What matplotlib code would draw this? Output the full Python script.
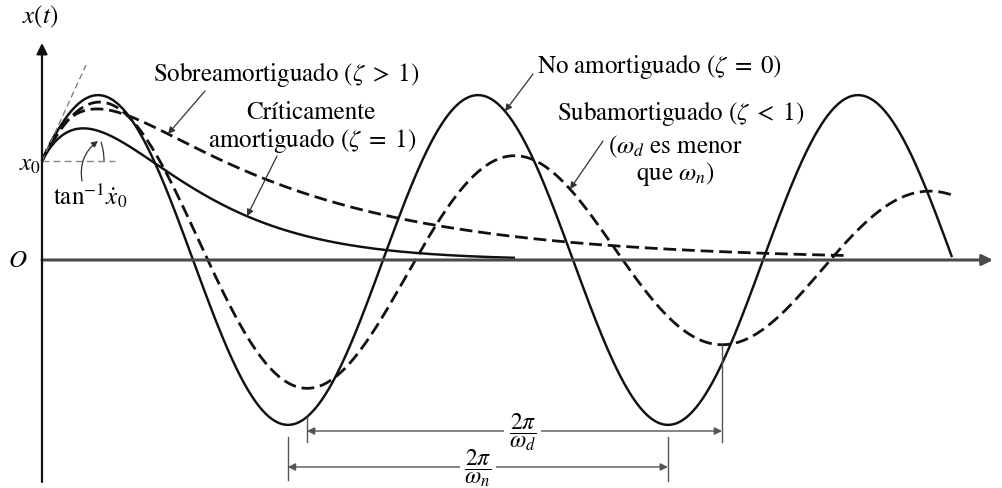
import numpy as np
import matplotlib
matplotlib.use("Agg")
import matplotlib.pyplot as plt
from matplotlib.patches import Arc

plt.rcParams["font.family"] = ["STIXGeneral", "Liberation Serif", "DejaVu Serif"]
plt.rcParams["mathtext.fontset"] = "stix"

# Free response x(t) of a single-DOF system, common initial displacement.
x0 = 99.0                      # initial displacement
# undamped (zeta = 0)
period_n = 380.0
v0_undamped = 2.18
t_end_undamped = 910.0
# underdamped (zeta < 1)
period_d = 415.0
decay_under = 0.001
v0_under = 1.95
t_end_under = 911.0
# critically damped (zeta = 1)
rate_crit = 0.014
v0_crit = 1.9
t_end_crit = 473.0
# overdamped (zeta > 1): two real decay rates
rates_over = [0.005, 0.025]
v0_over = 2.5
t_end_over = 805.0

wn = 2 * np.pi / period_n
wd = 2 * np.pi / period_d


def undamped(t):
    return x0 * np.cos(wn * t) + v0_undamped / wn * np.sin(wn * t)


def underdamped(t):
    b = (v0_under + decay_under * x0) / wd
    return np.exp(-decay_under * t) * (x0 * np.cos(wd * t) + b * np.sin(wd * t))


def critical(t):
    return (x0 + (v0_crit + rate_crit * x0) * t) * np.exp(-rate_crit * t)


def overdamped(t):
    a, b = rates_over
    c1 = (v0_over + b * x0) / (b - a)
    c2 = x0 - c1
    return c1 * np.exp(-a * t) + c2 * np.exp(-b * t)


fig = plt.figure(figsize=(10.03, 4.89), dpi=100)
ax = fig.add_axes([0, 0, 1, 1])
ax.set_xlim(-42, 961)
ax.set_ylim(-228, 261)
ax.axis("off")

ink = "#111111"
lw = 1.75
lw_dash = 2.0
dash = (4.6, 2.1)

t_u = np.linspace(0, t_end_undamped, 1500)
t_d = np.linspace(0, t_end_under, 1500)
t_c = np.linspace(0, t_end_crit, 800)
t_o = np.linspace(0, t_end_over, 1200)
x_u = undamped(t_u)
x_d = underdamped(t_d)
x_c = critical(t_c)
x_o = overdamped(t_o)

# axes with arrow heads
ax.annotate("", xy=(951, 0), xytext=(0, 0),
            arrowprops=dict(arrowstyle="-|>", color="#4a4a4a", lw=2.2,
                            mutation_scale=16, shrinkA=0, shrinkB=0))
ax.annotate("", xy=(0, 217), xytext=(0, -222),
            arrowprops=dict(arrowstyle="-|>", color=ink, lw=1.6,
                            mutation_scale=16, shrinkA=0, shrinkB=0))

ax.plot(t_u, x_u, color=ink, lw=lw, solid_capstyle="butt")
ax.plot(t_c, x_c, color=ink, lw=lw, solid_capstyle="butt")
ax.plot(t_d, x_d, color=ink, lw=lw_dash, linestyle=(0, dash), dash_capstyle="butt")
ax.plot(t_o, x_o, color=ink, lw=lw_dash, linestyle=(0, dash), dash_capstyle="butt")

# initial slope and reference line at x0
t_tan = np.array([0.0, 44.0])
ax.plot(t_tan, x0 + v0_undamped * t_tan, color="#777777", lw=0.9,
        linestyle=(0, (5, 3)))
ax.plot([0, 73], [x0, x0], color="#888888", lw=1.0, linestyle=(0, (5, 3)))
ax.add_patch(Arc((0, x0), 124, 124, theta1=0, theta2=18, color="#333333", lw=0.9))
ax.annotate("", xy=(56, 119), xytext=(40, 79),
            arrowprops=dict(arrowstyle="-|>", color="#333333", lw=0.9,
                            mutation_scale=9, shrinkA=0, shrinkB=0,
                            connectionstyle="arc3,rad=-0.3"))

fs = 18
ax.text(-2, 244, r"$x(t)$", fontsize=fs, ha="center", va="center")
ax.text(-12, 96, r"$x_0$", fontsize=fs, ha="center", va="center")
ax.text(-24, 0, r"$O$", fontsize=fs, ha="center", va="center")
ax.text(48, 65, r"$\mathrm{tan}^{-1}\dot{x}_0$", fontsize=fs, ha="center", va="center")

ax.text(244, 186, r"Sobreamortiguado ($\zeta\;>\;1$)", fontsize=fs, ha="center", va="center")
ax.text(269, 148, "Críticamente", fontsize=fs, ha="center", va="center")
ax.text(270, 120, r"amortiguado ($\zeta\;=\;1$)", fontsize=fs, ha="center", va="center")
ax.text(618, 194, r"No amortiguado ($\zeta\;=\;0$)", fontsize=fs, ha="center", va="center")
ax.text(639, 147, r"Subamortiguado ($\zeta\;<\;1$)", fontsize=fs, ha="center", va="center")
ax.text(633, 114, r"($\omega_d$ es menor", fontsize=fs, ha="center", va="center")
ax.text(633, 87, r"que $\omega_n$)", fontsize=fs, ha="center", va="center")

leader = dict(arrowstyle="-|>", color="#333333", lw=0.9, mutation_scale=10,
              shrinkA=0, shrinkB=0)
for (sx, sy), tt, curve in [((163, 169), 126.0, overdamped),
                            ((235, 104), 205.0, critical),
                            ((491, 186), 463.0, undamped),
                            ((561, 119), 528.0, underdamped)]:
    ax.annotate("", xy=(tt, float(curve(tt))), xytext=(sx, sy), arrowprops=leader)

# period dimensions measured between successive troughs
def troughs(t, x, split):
    m1 = t < split
    m2 = t >= split
    return t[m1][np.argmin(x[m1])], t[m2][np.argmin(x[m2])], x[m2].min()

n1, n2, xn2 = troughs(t_u, x_u, 450)
d1, d2, xd2 = troughs(t_d, x_d, 480)

dim = "#555555"
y_d, y_n = -171, -207
ax.plot([d1, d1], [-157, -182], color=dim, lw=1.0)
ax.plot([d2, d2], [xd2, -182], color=dim, lw=1.0)
ax.plot([n1, n1], [-177, -220], color=dim, lw=1.0)
ax.plot([n2, n2], [-177, -221], color=dim, lw=1.0)
dim_arrow = dict(arrowstyle="<|-|>", color=dim, lw=1.0, mutation_scale=11,
                 shrinkA=0, shrinkB=0)
ax.annotate("", xy=(d2, y_d), xytext=(d1, y_d), arrowprops=dim_arrow)
ax.annotate("", xy=(n2, y_n), xytext=(n1, y_n), arrowprops=dim_arrow)
box = dict(facecolor="white", edgecolor="none", pad=3)
ax.text((d1 + d2) / 2 + 8, y_d, r"$\dfrac{2\pi}{\omega_d}$", fontsize=17,
        ha="center", va="center", bbox=box)
ax.text((n1 + n2) / 2, y_n, r"$\dfrac{2\pi}{\omega_n}$", fontsize=17,
        ha="center", va="center", bbox=box)

fig.savefig("out.png", dpi=100, facecolor="white")
